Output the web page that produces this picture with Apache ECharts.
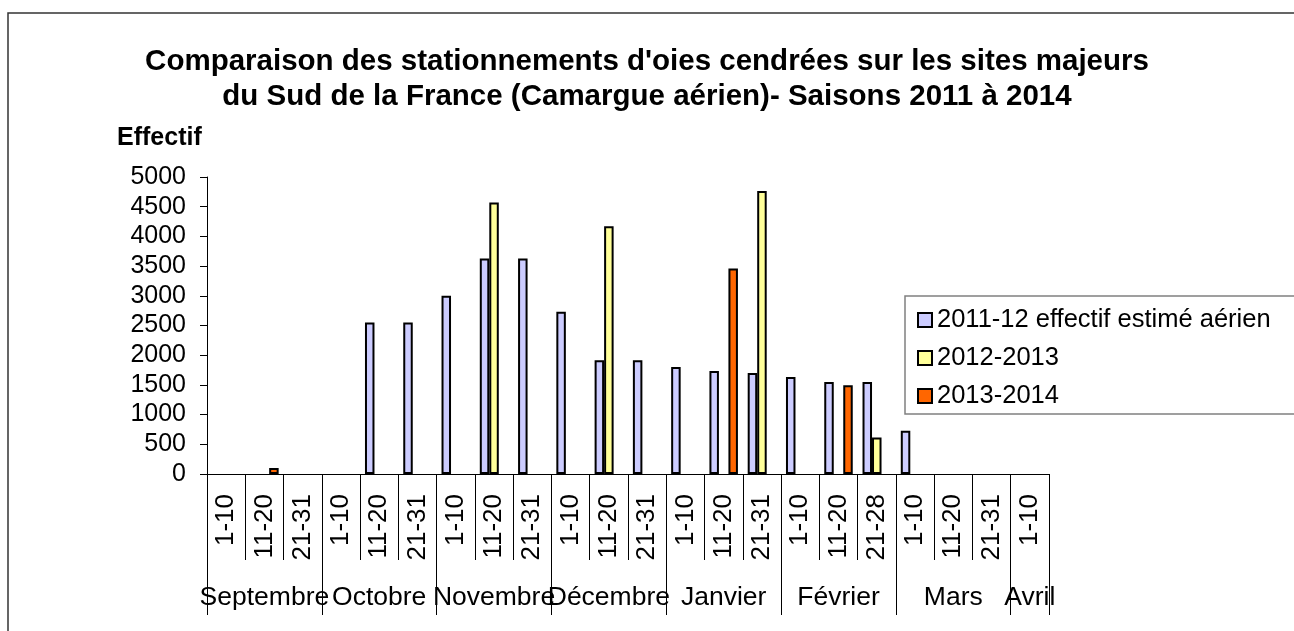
<!DOCTYPE html>
<html>
<head>
<meta charset="utf-8">
<script src="https://cdn.jsdelivr.net/npm/echarts@6/dist/echarts.min.js"></script>
<style>
  html, body { margin: 0; padding: 0; background: #fff; }
  #chart { width: 1294px; height: 631px; }
</style>
</head>
<body>
<div id="chart"></div>
<script>
// décades (axe x)
const decades = ['1-10', '11-20', '21-31', '1-10', '11-20', '21-31', '1-10', '11-20', '21-31',
  '1-10', '11-20', '21-31', '1-10', '11-20', '21-31', '1-10', '11-20', '21-28',
  '1-10', '11-20', '21-31', '1-10']
const months = ['Septembre', 'Octobre', 'Novembre', 'Décembre', 'Janvier', 'Février', 'Mars', 'Avril']
const monthSpans = [3, 3, 3, 3, 3, 3, 3, 1]
const yTicks = [0, 500, 1000, 1500, 2000, 2500, 3000, 3500, 4000, 4500, 5000]

const seriesNames = ['2011-12 effectif estimé aérien', '2012-2013', '2013-2014']
const s2011 = [null, null, null, null, 2550, 2550, 3000, 3630, 3630, 2730, 1915, 1915,
  1800, 1735, 1700, 1635, 1550, 1550, 730, null, null, null]
const s2012 = [null, null, null, null, null, null, null, 4570, null, null, 4170, null,
  null, null, 4765, null, null, 615, null, null, null, null]
const s2013 = [null, 100, null, null, null, null, null, null, null, null, null, null,
  null, 3460, null, null, 1495, null, null, null, null, null]
const colors = ['#CCCCFF', '#FFFF99', '#FF6600']

// axe des mois : nom au milieu de chaque mois, trait aux limites
const monthData = []
const monthBounds = []
months.forEach((m, i) => {
  monthBounds.push(monthData.length)
  for (let k = 0; k < monthSpans[i]; k++) {
    monthData.push(k === Math.floor(monthSpans[i] / 2) ? m : '')
  }
})

const font = "'Liberation Sans', Arial, sans-serif"
const myChart = echarts.init(document.getElementById('chart'))

myChart.setOption({
  animation: false,
  textStyle: { fontFamily: font, color: '#000' },
  title: {
    text: "Comparaison des stationnements d'oies cendrées sur les sites majeurs\ndu Sud de la France (Camargue aérien)- Saisons 2011 à 2014",
    left: 'center',
    top: 39,
    textStyle: { fontFamily: font, fontSize: 29.5, fontWeight: 'bold', lineHeight: 35, color: '#000', align: 'center' }
  },
  graphic: [
    { type: 'rect', shape: { x: 8, y: 13, width: 1300, height: 700 }, style: { fill: 'none', stroke: '#333', lineWidth: 1.5 }, z: -1 },
    { type: 'rect', shape: { x: 905, y: 296, width: 420, height: 118 }, style: { fill: '#fff', stroke: '#808080', lineWidth: 1.5 }, z: 0 },
    { type: 'text', left: 117, top: 126, style: { text: 'Effectif', font: 'bold 25px ' + font, fill: '#000' } }
  ],
  legend: {
    orient: 'vertical',
    left: 912,
    top: 302,
    itemWidth: 14,
    itemHeight: 14,
    itemGap: 12,
    icon: 'rect',
    textStyle: { fontFamily: font, fontSize: 25.5, color: '#000', padding: [0, 0, 0, 0] },
    data: seriesNames,
    z: 5
  },
  grid: { left: 207, right: 245, top: 177, bottom: 157, containLabel: false },
  xAxis: [
    {
      type: 'category',
      data: decades,
      axisLine: { show: true, lineStyle: { color: '#000', width: 1 } },
      axisTick: { show: true, interval: 0, length: 86, lineStyle: { color: '#000' } },
      axisLabel: { interval: 0, rotate: 90, margin: 20, fontSize: 26, color: '#000', fontFamily: font }
    },
    {
      type: 'category',
      position: 'bottom',
      data: monthData,
      axisLine: { show: false },
      axisTick: {
        show: true,
        interval: (idx) => monthBounds.includes(idx),
        length: 141,
        lineStyle: { color: '#000' }
      },
      axisLabel: { interval: 0, margin: 110, fontSize: 26.5, color: '#000', fontFamily: font }
    }
  ],
  yAxis: {
    type: 'value',
    min: yTicks[0],
    max: yTicks[yTicks.length - 1],
    interval: yTicks[1] - yTicks[0],
    axisLine: { show: true, lineStyle: { color: '#000' } },
    axisTick: { show: true, length: 7, lineStyle: { color: '#000' } },
    splitLine: { show: false },
    axisLabel: { margin: 21, fontSize: 25, color: '#000', fontFamily: font, formatter: (v) => String(v) }
  },
  series: [s2011, s2012, s2013].map((d, i) => ({
    name: seriesNames[i],
    type: 'bar',
    data: d,
    barWidth: 9.5,
    barGap: '0%',
    itemStyle: { color: colors[i], borderColor: '#000', borderWidth: 2 }
  }))
})
</script>
</body>
</html>
